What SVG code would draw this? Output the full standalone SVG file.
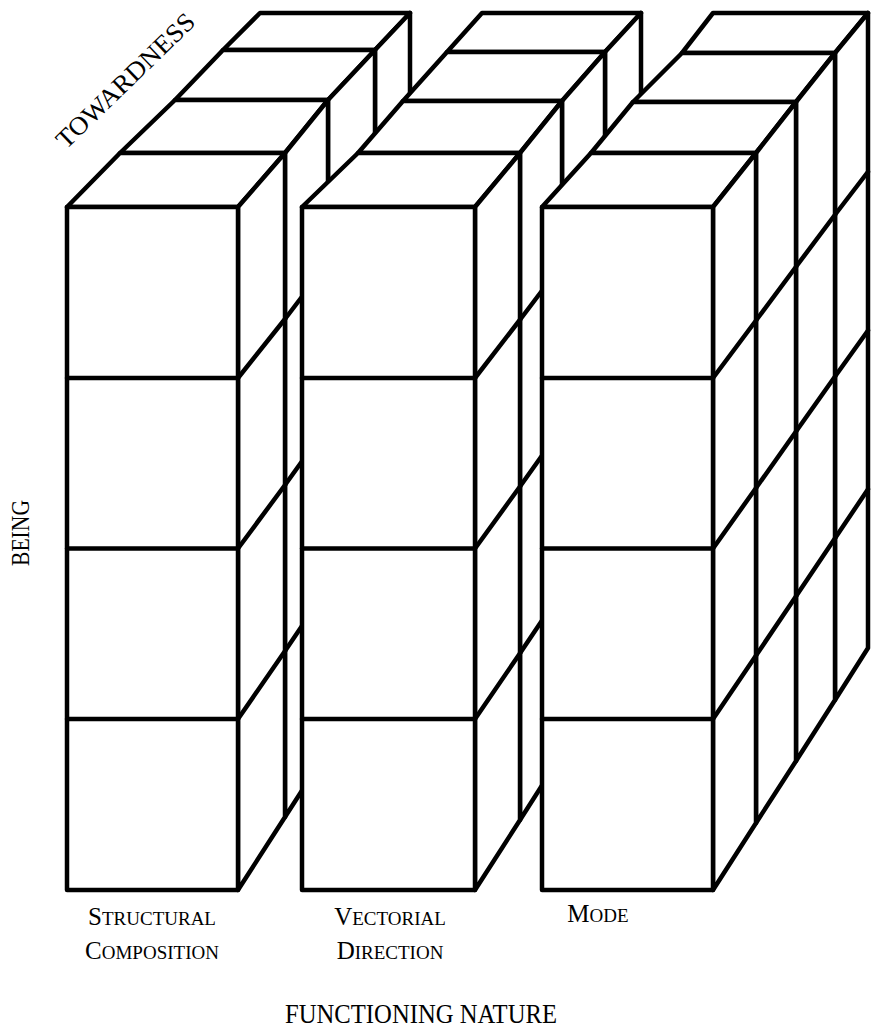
<svg xmlns="http://www.w3.org/2000/svg" width="872" height="1033" viewBox="0 0 872 1033">
<style>
.f{fill:#fff;stroke:#000;stroke-width:4.5;stroke-linejoin:round}
.l{fill:none;stroke:#000;stroke-width:4.5;stroke-linecap:round}
text{font-family:"Liberation Serif","Times New Roman",serif;fill:#000}
.lab{font-size:19px;text-anchor:middle}
.cap{font-size:25px}
</style>
<rect width="872" height="1033" fill="#fff"/>
<g id="col-structural">
  <g id="c1-s3"><polygon class="f" points="223,50 375,50 410,13 260,13"/><polygon class="f" points="375,50 410,13 410,622 375,676"/><path class="l" d="M375,206.5L410,165.25M375,363L410,317.5M375,519.5L410,469.75"/></g>
  <g id="c1-s2"><polygon class="f" points="175,100 328,100 375,50 223,50"/><polygon class="f" points="328,100 375,50 375,676 328,750"/><path class="l" d="M328,262.5L375,206.5M328,425L375,363M328,587.5L375,519.5"/></g>
  <g id="c1-s1"><polygon class="f" points="120,153 285,153 328,100 175,100"/><polygon class="f" points="285,153 328,100 328,750 285,817"/><path class="l" d="M285,319L328,262.5M285,485L328,425M285,651L328,587.5"/></g>
  <g id="c1-s0"><polygon class="f" points="67,207 238,207 285,153 120,153"/><polygon class="f" points="238,207 285,153 285,817 238,890"/><path class="l" d="M238,378L285,319M238,548.5L285,485M238,719L285,651"/><rect class="f" x="67" y="207" width="171" height="683"/><path class="l" d="M67,378H238M67,548.5H238M67,719H238"/></g>
</g>
<g id="col-vectorial">
  <g id="c2-s3"><polygon class="f" points="447,52 605,52 641,13 482,13"/><polygon class="f" points="605,52 641,13 641,631 605,687"/><path class="l" d="M605,210.75L641,167.5M605,369.5L641,322M605,528.25L641,476.5"/></g>
  <g id="c2-s2"><polygon class="f" points="403,101 562,101 605,52 447,52"/><polygon class="f" points="562,101 605,52 605,687 562,754"/><path class="l" d="M562,264.25L605,210.75M562,427.5L605,369.5M562,590.75L605,528.25"/></g>
  <g id="c2-s1"><polygon class="f" points="358,153 520,153 562,101 403,101"/><polygon class="f" points="520,153 562,101 562,754 520,820"/><path class="l" d="M520,319.75L562,264.25M520,486.5L562,427.5M520,653.25L562,590.75"/></g>
  <g id="c2-s0"><polygon class="f" points="302,207 475,207 520,153 358,153"/><polygon class="f" points="475,207 520,153 520,820 475,890"/><path class="l" d="M475,378L520,319.75M475,548.5L520,486.5M475,719L520,653.25"/><rect class="f" x="302" y="207" width="173" height="683"/><path class="l" d="M302,378H475M302,548.5H475M302,719H475"/></g>
</g>
<g id="col-mode">
  <g id="c3-s3"><polygon class="f" points="682,53 835,53 868,13 713,13"/><polygon class="f" points="835,53 868,13 868,648 835,700"/><path class="l" d="M835,214.75L868,171.75M835,376.5L868,330.5M835,538.25L868,489.25"/></g>
  <g id="c3-s2"><polygon class="f" points="633,102 796,102 835,53 682,53"/><polygon class="f" points="796,102 835,53 835,700 796,761"/><path class="l" d="M796,266.75L835,214.75M796,431.5L835,376.5M796,596.25L835,538.25"/></g>
  <g id="c3-s1"><polygon class="f" points="591,153 756,153 796,102 633,102"/><polygon class="f" points="756,153 796,102 796,761 756,823"/><path class="l" d="M756,320.5L796,266.75M756,488L796,431.5M756,655.5L796,596.25"/></g>
  <g id="c3-s0"><polygon class="f" points="542,207 713,207 756,153 591,153"/><polygon class="f" points="713,207 756,153 756,823 713,890"/><path class="l" d="M713,378L756,320.5M713,548.5L756,488M713,719L756,655.5"/><rect class="f" x="542" y="207" width="171" height="683"/><path class="l" d="M542,378H713M542,548.5H713M542,719H713"/></g>
</g>
<g id="labels">
  <text transform="translate(66,150) rotate(-44)" font-size="26" textLength="182" lengthAdjust="spacingAndGlyphs">TOWARDNESS</text>
  <text transform="translate(29,566) rotate(-90)" font-size="26" textLength="66" lengthAdjust="spacingAndGlyphs">BEING</text>
  <text class="lab" x="152" y="925"><tspan class="cap">S</tspan>TRUCTURAL</text>
  <text class="lab" x="152" y="959"><tspan class="cap">C</tspan>OMPOSITION</text>
  <text class="lab" x="390" y="925"><tspan class="cap">V</tspan>ECTORIAL</text>
  <text class="lab" x="390" y="959"><tspan class="cap">D</tspan>IRECTION</text>
  <text class="lab" x="598" y="922"><tspan class="cap">M</tspan>ODE</text>
  <text x="421" y="1023" font-size="27" text-anchor="middle" textLength="272" lengthAdjust="spacingAndGlyphs">FUNCTIONING NATURE</text>
</g>
</svg>
